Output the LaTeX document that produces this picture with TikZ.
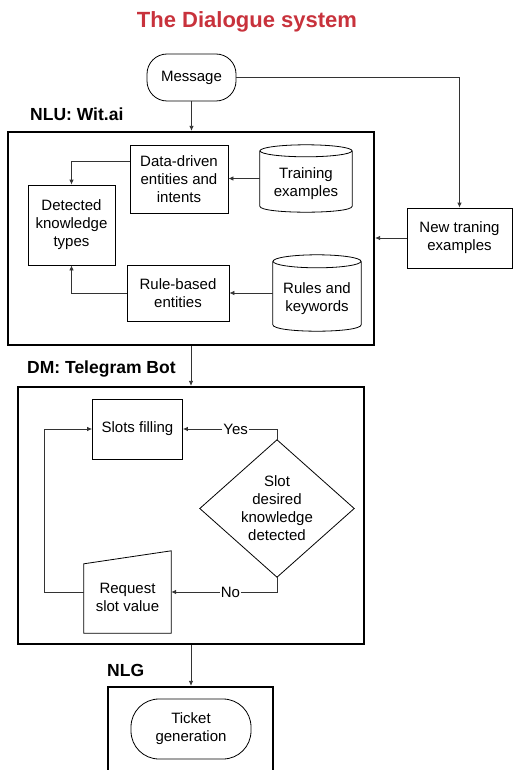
\documentclass[tikz,border=0pt]{standalone}
\usepackage{fontspec}
\setmainfont{Liberation Sans}
\usetikzlibrary{arrows.meta}
\definecolor{titlered}{RGB}{200,50,60}
\newcommand\drawcyl[3]{%
 \draw[line width=0.8pt] ([yshift=-#3]#1.north) ellipse [x radius=#2pt, y radius=#3pt];
 \draw[line width=0.8pt] ([yshift=-#3]#1.north west) -- ([yshift=#3]#1.south west)
   .. controls ([yshift={-#3/3}]#1.south west) and ([yshift={-#3/3}]#1.south east) ..
   ([yshift=#3]#1.south east) -- ([yshift=-#3]#1.north east);}
\begin{document}
\begin{tikzpicture}[x=1pt,y=-1pt,
  txt/.style={font=\fontsize{15}{18}\selectfont, align=center, inner sep=0pt},
  box/.style={txt, draw=black, line width=0.8pt},
  bigbox/.style={draw=black, line width=2.2pt, inner sep=0pt},
  hdr/.style={font=\fontsize{17.5}{20}\selectfont\bfseries, inner sep=0pt, anchor=west},
  conn/.style={draw=black!80, line width=0.8pt},
  arr/.style={conn, -{Latex[length=5pt,width=4.5pt]}},
  lbl/.style={txt, fill=white, inner sep=1pt}]
\useasboundingbox (0,0) rectangle (514,770);
\clip (0,0) rectangle (514,770);

% title
\node[font=\fontsize{22}{26}\selectfont\bfseries, text=titlered, inner sep=0pt, anchor=base] (title) at (247,28) {The Dialogue system};

% message
\node[box, minimum width=89, minimum height=47, rounded corners=20] (msg) at (191.5,77.5) {Message};

% NLU
\node[hdr] (nlulab) at (30,114) {NLU: Wit.ai};
\node[bigbox, minimum width=366, minimum height=213] (nlu) at (191,238.5) {};
\node[box, minimum width=98, minimum height=68] (dd) at (179,179) {Data-driven\\entities and\\intents};
\node[txt, minimum width=92, minimum height=67, label={[txt, yshift=-5.5]center:Training\\examples}] (train) at (306,178.5) {};
\drawcyl{train}{46}{6}
\node[box, minimum width=87, minimum height=80] (det) at (71.5,225) {Detected\\knowledge\\types};
\node[box, minimum width=102, minimum height=56] (rb) at (178,293) {Rule-based\\entities};
\node[txt, minimum width=88, minimum height=76, label={[txt, yshift=-6]center:Rules and\\keywords}] (rules) at (317,293) {};
\drawcyl{rules}{44}{6.5}
\node[box, minimum width=105, minimum height=60] (newt) at (459.5,238) {New traning\\examples};

% DM
\node[hdr] (dmlab) at (27,369.5) {DM: Telegram Bot};
\node[bigbox, minimum width=346, minimum height=257] (dm) at (191,515.5) {};
\node[box, minimum width=90, minimum height=60] (sf) at (137.5,429) {Slots filling};
\node[txt, minimum width=154, minimum height=137] (dia) at (277,508.5) {Slot\\desired\\knowledge\\detected};
\draw[line width=0.8pt] (dia.north) -- (dia.east) -- (dia.south) -- (dia.west) -- cycle;
\node[txt, minimum width=87, minimum height=82, label={[txt, yshift=-5]center:Request\\slot value}] (req) at (127.5,592) {};
\draw[line width=0.8pt] (req.south west) -- (req.south east) -- (req.north east) -- ([yshift=-13]req.north west) -- cycle;

% NLG
\node[hdr] (nlglab) at (107,670) {NLG};
\node[bigbox, minimum width=165, minimum height=113] (nlg) at (190.5,743.5) {};
\node[box, minimum width=120, minimum height=60, rounded corners=28] (tick) at (191,729) {Ticket\\generation};

% connectors
\draw[arr] (msg.south) -- (msg.south |- nlu.north);
\draw[arr] (msg.east) -| (newt.north);
\draw[arr] (newt.west) -- (newt.west -| nlu.east);
\draw[arr] (train.west) -- (train.west -| dd.east);
\draw[arr] ([yshift=18]dd.west) -| (det.north);
\draw[arr] (rb.west) -| (det.south);
\draw[arr] (rules.west) -- (rules.west -| rb.east);
\draw[arr] (nlu.south) -- (dm.north);
\draw[arr] (dia.north) |- node[lbl, pos=0.72] {Yes} (sf.east);
\draw[arr] (dia.south) |- node[lbl, pos=0.72] {No} (req.east);
\draw[arr] (req.west) -- ++(-39,0) |- (sf.west);
\draw[arr] (dm.south) -- (dm.south |- nlg.north);
\end{tikzpicture}
\end{document}
